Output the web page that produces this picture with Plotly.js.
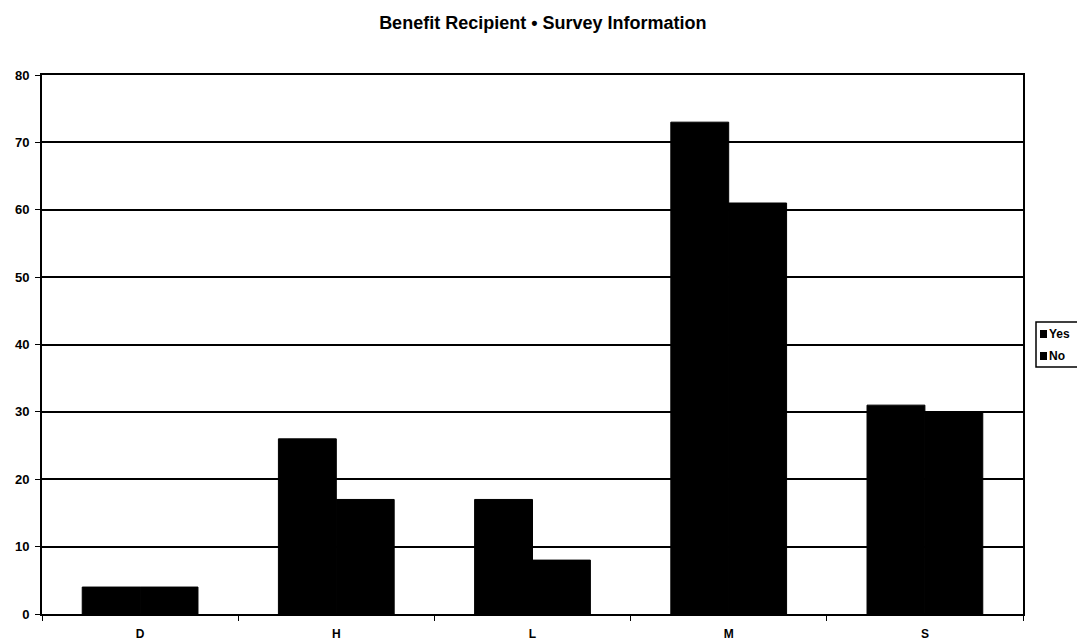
<!DOCTYPE html>
<html>
<head>
<meta charset="utf-8">
<script src="https://cdn.plot.ly/plotly-3.0.1.min.js"></script>
<style>
  html, body { margin: 0; padding: 0; background: #ffffff; }
  #chart { width: 1077px; height: 640px; }
</style>
</head>
<body>
<div id="chart"></div>
<script>
// Survey responses per group
const categories = ['D', 'H', 'L', 'M', 'S'];
const yesValues = [4, 26, 17, 73, 31];
const noValues = [4, 17, 8, 61, 30];
const seriesNames = ['Yes', 'No'];
const yTicks = [0, 10, 20, 30, 40, 50, 60, 70, 80];

const FONT = 'Liberation Sans, Arial, sans-serif';

const traces = [
  { type: 'bar', name: seriesNames[0], x: categories, y: yesValues,
    marker: { color: '#000000', line: { width: 1, color: '#000000' } }, showlegend: false },
  { type: 'bar', name: seriesNames[1], x: categories, y: noValues,
    marker: { color: '#000000', line: { width: 1, color: '#000000' } }, showlegend: false }
];

// Hand-built legend box to the right of the plot area
const plotL = 42, plotR = 1023, plotT = 75, plotB = 614;
const px = v => (v - plotL) / (plotR - plotL);
const py = v => (plotB - v) / (plotB - plotT);

const shapes = [
  { type: 'rect', xref: 'paper', yref: 'paper',
    x0: px(1036), x1: px(1090), y0: py(367), y1: py(322),
    line: { color: '#000', width: 1.5 }, fillcolor: '#fff' },
  { type: 'rect', xref: 'paper', yref: 'paper',
    x0: px(1040), x1: px(1047), y0: py(338), y1: py(330),
    line: { width: 0 }, fillcolor: '#000' },
  { type: 'rect', xref: 'paper', yref: 'paper',
    x0: px(1040), x1: px(1047), y0: py(360), y1: py(352),
    line: { width: 0 }, fillcolor: '#000' }
];
const annotations = [
  { xref: 'paper', yref: 'paper', x: px(1047), y: py(334), xanchor: 'left', yanchor: 'middle',
    text: '<b>' + seriesNames[0] + '</b>', showarrow: false, font: { family: FONT, size: 12, color: '#000' } },
  { xref: 'paper', yref: 'paper', x: px(1047), y: py(356), xanchor: 'left', yanchor: 'middle',
    text: '<b>' + seriesNames[1] + '</b>', showarrow: false, font: { family: FONT, size: 12, color: '#000' } }
];

const layout = {
  width: 1077, height: 640,
  margin: { l: plotL, r: 1077 - plotR, t: plotT, b: 640 - plotB, pad: 0 },
  paper_bgcolor: '#ffffff', plot_bgcolor: '#ffffff',
  title: { text: '<b>Benefit Recipient \u2022 Survey Information</b>',
           font: { family: FONT, size: 18, color: '#000' },
           x: 0.504, xanchor: 'center', y: 0.965, yanchor: 'middle' },
  barmode: 'group', bargap: 0.41, bargroupgap: 0,
  showlegend: false,
  xaxis: {
    type: 'category', tickson: 'boundaries', ticks: 'outside', ticklen: 5,
    tickcolor: '#000', tickwidth: 1, ticklabelstandoff: 8,
    showline: true, linecolor: '#000', linewidth: 2, mirror: true,
    showgrid: false, zeroline: false,
    tickfont: { family: FONT, size: 12, color: '#000', weight: 'bold' }
  },
  yaxis: {
    range: [0, 80], tickvals: yTicks, ticks: 'outside', ticklen: 5,
    tickcolor: '#000', tickwidth: 1, ticklabelstandoff: 3,
    showline: true, linecolor: '#000', linewidth: 2, mirror: true,
    showgrid: true, gridcolor: '#000', gridwidth: 2, zeroline: false,
    tickfont: { family: FONT, size: 13, color: '#000', weight: 'bold' }
  },
  shapes: shapes,
  annotations: annotations
};

Plotly.newPlot('chart', traces, layout, { displayModeBar: false, staticPlot: true });
</script>
</body>
</html>
